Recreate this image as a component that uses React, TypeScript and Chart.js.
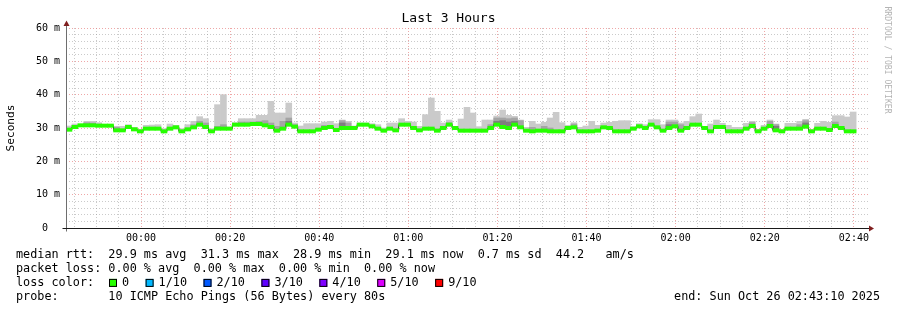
import React, { useEffect, useRef } from 'react';
import { Chart, registerables } from 'chart.js';

Chart.register(...registerables);

// ---- time axis (minutes relative to 00:00) ----
const START_MIN = -(16 + 50 / 60); // 23:43:10
const SPAN_MIN = 180; // last 3 hours
const STEP_MIN = 80 / 60; // 80 s per sample
const X_GRID_STEP = 5; // minor grid every 5 minutes
const X_MAJOR_STEP = 20; // labelled / major grid every 20 minutes

// ---- series values (ms) ----
const MEDIAN = [
  29.5, 30.3, 30.8, 30.8, 30.8, 30.7, 30.7, 30.7, 29.3, 29.3,
  30.3, 29.6, 29.0, 29.8, 29.8, 29.8, 29.0, 29.8, 30.2, 29.0,
  29.6, 30.2, 31.0, 30.3, 29.0, 29.8, 29.8, 29.8, 31.0, 31.0,
  31.0, 31.2, 31.2, 30.8, 30.3, 29.2, 29.8, 31.0, 30.4, 29.0,
  29.0, 29.0, 29.5, 30.0, 30.3, 29.4, 30.0, 30.0, 30.0, 31.0,
  31.0, 30.5, 29.8, 29.2, 29.8, 29.3, 31.0, 31.0, 30.0, 29.3,
  29.8, 29.8, 29.2, 30.0, 31.0, 30.0, 29.2, 29.2, 29.2, 29.2,
  29.2, 30.0, 31.0, 30.3, 30.0, 31.0, 30.2, 29.2, 29.0, 29.2,
  29.2, 29.0, 29.0, 29.0, 30.0, 30.2, 29.0, 29.0, 29.0, 29.2,
  30.2, 30.0, 29.0, 29.0, 29.0, 29.8, 30.5, 30.0, 31.0, 30.2,
  29.2, 30.0, 30.5, 29.2, 30.0, 31.0, 31.0, 30.0, 29.0, 30.3,
  30.3, 29.0, 29.0, 29.0, 29.8, 30.6, 29.0, 29.8, 30.6, 29.3,
  29.0, 29.8, 29.8, 29.8, 30.4, 29.0, 29.8, 29.8, 29.4, 30.6,
  30.0, 29.0, 29.0,
];

const SMOKE_MAX = [
  30.6, 31.2, 31.0, 32.0, 32.0, 31.6, 31.0, 30.9, 30.5, 30.5,
  31.0, 30.2, 29.6, 30.8, 30.9, 31.0, 29.8, 31.2, 30.8, 29.8,
  31.0, 32.0, 33.4, 32.8, 29.8, 37.0, 40.0, 30.3, 31.6, 32.8,
  32.8, 32.8, 33.8, 33.8, 38.0, 34.5, 34.5, 37.5, 31.5, 30.6,
  31.3, 31.3, 31.3, 31.8, 32.0, 31.3, 32.4, 32.0, 30.6, 31.5,
  31.5, 31.3, 31.0, 30.0, 31.5, 31.5, 32.8, 32.0, 31.8, 30.5,
  34.0, 39.0, 35.0, 31.5, 32.4, 30.5, 32.7, 36.2, 34.5, 30.4,
  32.4, 32.4, 33.6, 35.4, 33.8, 33.5, 32.4, 30.2, 32.0, 31.2,
  31.7, 33.0, 34.7, 31.6, 30.8, 31.6, 30.2, 30.6, 32.0, 30.8,
  31.5, 31.7, 32.0, 32.2, 32.2, 30.4, 31.3, 31.0, 32.5, 32.5,
  31.0, 32.4, 32.4, 31.5, 32.0, 33.4, 34.2, 30.4, 31.2, 32.4,
  31.4, 30.8, 30.2, 30.2, 31.4, 32.0, 29.6, 30.8, 32.4, 31.2,
  29.6, 31.4, 31.4, 32.0, 32.6, 29.6, 31.4, 32.0, 31.7, 33.7,
  33.7, 33.3, 34.8,
];

const N = null;
const SMOKE_MID = [
  N, 30.8, N, 31.6, 31.5, N, N, N, 30.2, N,
  N, N, N, N, N, N, N, N, N, N,
  N, 31.0, 32.0, 31.5, N, 30.5, 31.0, N, N, 31.8,
  31.8, 31.8, 32.0, 32.2, 31.5, 30.5, 32.0, 33.0, 31.0, N,
  N, N, N, 30.8, N, N, 32.2, 31.5, N, N,
  31.3, N, N, N, N, N, N, N, N, N,
  N, N, N, N, 31.6, N, N, N, N, N,
  N, 31.0, 33.0, 33.0, 32.8, 33.0, 32.2, N, 30.2, N,
  30.5, 30.0, N, N, N, 31.2, N, N, N, N,
  N, N, N, N, N, N, N, N, N, N,
  N, 31.8, 31.8, 31.0, N, N, N, N, N, N,
  N, N, N, N, N, 31.6, N, N, 32.0, 31.0,
  N, N, N, 31.0, 32.2, N, N, N, N, 31.8,
  N, N, N,
];

const SMOKE_INNER = [
  N, N, N, N, N, N, N, N, N, N,
  N, N, N, N, N, N, N, N, N, N,
  N, N, N, N, N, N, N, N, N, N,
  N, N, N, N, N, N, N, 32.0, N, N,
  N, N, N, N, N, N, 31.5, N, N, N,
  N, N, N, N, N, N, N, N, N, N,
  N, N, N, N, N, N, N, N, N, N,
  N, N, 32.0, 32.2, 31.8, 32.0, N, N, N, N,
  N, N, N, N, N, N, N, N, N, N,
  N, N, N, N, N, N, N, N, N, N,
  N, 31.0, N, N, N, N, N, N, N, N,
  N, N, N, N, N, N, N, N, N, 30.5,
  N, N, N, N, 31.5, N, N, N, N, N,
  N, N, N,
];

// ---- tick labels ----
const X_LABEL_MINUTES = [0, 20, 40, 60, 80, 100, 120, 140, 160];
const X_LABELS = ['00:00', '00:20', '00:40', '01:00', '01:20', '01:40', '02:00', '02:20', '02:40'];
const Y_LABEL_VALUES = [0, 10, 20, 30, 40, 50, 60];
const Y_LABELS = ['0  ', '10 m', '20 m', '30 m', '40 m', '50 m', '60 m'];

// ---- texts ----
const TITLE = 'Last 3 Hours';
const Y_TITLE = 'Seconds';
const WATERMARK = 'RRDTOOL / TOBI OETIKER';
const LEGEND_RTT = 'median rtt:  29.9 ms avg  31.3 ms max  28.9 ms min  29.1 ms now  0.7 ms sd  44.2   am/s';
const LEGEND_LOSS = 'packet loss: 0.00 % avg  0.00 % max  0.00 % min  0.00 % now';
const LEGEND_COLOR_TITLE = 'loss color:';
const LOSS_LABELS = ['0', '1/10', '2/10', '3/10', '4/10', '5/10', '9/10'];
const LOSS_COLORS = ['#26ff00', '#00b8ff', '#0059ff', '#5e00ff', '#7e00ff', '#dd00ff', '#ff0000'];
const LEGEND_PROBE = 'probe:       10 ICMP Echo Pings (56 Bytes) every 80s';
const LEGEND_END = 'end: Sun Oct 26 02:43:10 2025';

const MONO = '"DejaVu Sans Mono", monospace';
const BAND_HALF = 0.5; // half thickness of the median band, ms
const MINOR_GRID = 'rgba(150,150,150,0.5)';
const MAJOR_GRID = 'rgba(230,120,120,0.65)';

const timeAt = (i: number) => START_MIN + (i + 0.5) * STEP_MIN;

const near = (a: number, b: number) => Math.abs(a - b) < 1e-6;

const rrdPlugin = {
  id: 'rrdDecor',
  beforeDraw(chart: any) {
    const ctx = chart.ctx;
    ctx.save();
    ctx.fillStyle = '#ffffff';
    ctx.fillRect(0, 0, chart.width, chart.height);
    ctx.restore();
  },
  afterDraw(chart: any) {
    const ctx = chart.ctx as CanvasRenderingContext2D;
    const { left, right, top, bottom } = chart.chartArea;
    ctx.save();

    // axes
    const ax = Math.round(left) + 0.5;
    const ay = Math.round(bottom) + 0.5;
    ctx.lineWidth = 1;
    ctx.strokeStyle = '#6e6e6e';
    ctx.beginPath();
    ctx.moveTo(ax, ay + 3);
    ctx.lineTo(ax, top - 2);
    ctx.stroke();
    ctx.strokeStyle = '#1a1a1a';
    ctx.beginPath();
    ctx.moveTo(ax - 4, ay);
    ctx.lineTo(right + 1, ay);
    ctx.stroke();
    // arrows
    ctx.fillStyle = '#801f1f';
    ctx.beginPath();
    ctx.moveTo(ax, top - 7.5);
    ctx.lineTo(ax - 3, top - 2);
    ctx.lineTo(ax + 3, top - 2);
    ctx.closePath();
    ctx.fill();
    ctx.beginPath();
    ctx.moveTo(right + 6, ay);
    ctx.lineTo(right + 1, ay - 3);
    ctx.lineTo(right + 1, ay + 3);
    ctx.closePath();
    ctx.fill();

    // title
    ctx.fillStyle = '#000';
    ctx.textBaseline = 'middle';
    ctx.textAlign = 'center';
    ctx.font = `13px ${MONO}`;
    ctx.fillText(TITLE, chart.width / 2, 19);

    // y title
    ctx.save();
    ctx.translate(11, (top + bottom) / 2);
    ctx.rotate(-Math.PI / 2);
    ctx.font = `11.2px ${MONO}`;
    ctx.fillText(Y_TITLE, 0, 0);
    ctx.restore();

    // watermark
    ctx.save();
    ctx.translate(887, 60);
    ctx.rotate(Math.PI / 2);
    ctx.fillStyle = '#b4b4b4';
    ctx.font = `8.1px ${MONO}`;
    ctx.fillText(WATERMARK, 0, 0);
    ctx.restore();

    // legend
    ctx.textAlign = 'left';
    ctx.font = `11.8px ${MONO}`;
    ctx.fillStyle = '#000';
    const lx = 16;
    const rows = [254.5, 268.7, 282.9, 297.1];
    ctx.fillText(LEGEND_RTT, lx, rows[0]);
    ctx.fillText(LEGEND_LOSS, lx, rows[1]);
    ctx.fillText(LEGEND_COLOR_TITLE, lx, rows[2]);
    let bx = 109;
    LOSS_LABELS.forEach((lab, k) => {
      ctx.fillStyle = LOSS_COLORS[k];
      ctx.fillRect(bx, rows[2] - 4, 8, 8);
      ctx.strokeStyle = '#000';
      ctx.lineWidth = 1;
      ctx.strokeRect(bx + 0.5, rows[2] - 3.5, 7, 7);
      ctx.fillStyle = '#000';
      const tx = bx + 13;
      ctx.fillText(lab, tx, rows[2]);
      bx = tx + ctx.measureText(lab).width + 16.5;
    });
    ctx.fillText(LEGEND_PROBE, lx, rows[3]);
    ctx.textAlign = 'right';
    ctx.fillText(LEGEND_END, 880, rows[3]);

    ctx.restore();
  },
};

export default function App() {
  const ref = useRef<HTMLCanvasElement | null>(null);

  useEffect(() => {
    if (!ref.current) return;
    const smokeLight = MEDIAN.map((m, i) => ({ x: timeAt(i), y: [m, SMOKE_MAX[i]] }));
    const smokeMid = MEDIAN.map((m, i) => (SMOKE_MID[i] == null ? { x: timeAt(i), y: null } : { x: timeAt(i), y: [m, SMOKE_MID[i]] }));
    const smokeInner = MEDIAN.map((m, i) => (SMOKE_INNER[i] == null ? { x: timeAt(i), y: null } : { x: timeAt(i), y: [m, SMOKE_INNER[i]] }));
    const medLine = MEDIAN.map((m, i) => ({ x: timeAt(i), y: m }));
    const band = MEDIAN.map((m, i) => ({ x: timeAt(i), y: [m - BAND_HALF, m + BAND_HALF] }));

    const barCommon = {
      type: 'bar' as const,
      grouped: false,
      barPercentage: 1,
      categoryPercentage: 1,
      borderWidth: 0,
    };

    const chart = new Chart(ref.current, {
      type: 'bar',
      data: {
        datasets: [
          { ...barCommon, data: smokeLight as any, backgroundColor: '#cacaca', order: 6 },
          { ...barCommon, data: smokeMid as any, backgroundColor: '#a4a4a4', order: 5 },
          { ...barCommon, data: smokeInner as any, backgroundColor: '#7e7e7e', order: 4 },
          {
            type: 'line',
            data: medLine as any,
            stepped: 'middle',
            borderColor: '#202020',
            borderWidth: 1,
            pointRadius: 0,
            fill: false,
            order: 3,
          } as any,
          { ...barCommon, data: band as any, backgroundColor: '#26ff00', order: 1 },
        ],
      },
      options: {
        responsive: false,
        animation: false,
        devicePixelRatio: 1,
        layout: { padding: { left: 0, top: 28, right: 29, bottom: 62 } },
        plugins: { legend: { display: false }, tooltip: { enabled: false }, title: { display: false } },
        scales: {
          x: {
            type: 'linear',
            min: START_MIN,
            max: START_MIN + SPAN_MIN,
            offset: false,
            ticks: {
              autoSkip: false,
              maxRotation: 0,
              padding: 4,
              color: '#000',
              font: { family: MONO, size: 10 },
              callback: (v: any) => {
                const k = X_LABEL_MINUTES.findIndex((m) => near(m, Number(v)));
                return k >= 0 ? X_LABELS[k] : '';
              },
            },
            afterBuildTicks: (s: any) => {
              const first = Math.ceil(s.min / X_GRID_STEP) * X_GRID_STEP;
              const ticks: any[] = [];
              for (let v = first; v < s.max; v += X_GRID_STEP) ticks.push({ value: v });
              s.ticks = ticks;
            },
            afterFit: (s: any) => {
              s.height = 20;
            },
            grid: {
              offset: false,
              drawTicks: false,
              lineWidth: 1,
              color: (c: any) => {
                const v = c.tick ? c.tick.value : 1;
                return near(v / X_MAJOR_STEP, Math.round(v / X_MAJOR_STEP)) ? MAJOR_GRID : MINOR_GRID;
              },
            },
            border: { display: false, dash: [1, 2] },
          },
          y: {
            type: 'linear',
            min: 0,
            max: 60,
            ticks: {
              stepSize: 2,
              autoSkip: false,
              padding: 6,
              color: '#000',
              font: { family: MONO, size: 10 },
              callback: (v: any) => {
                const k = Y_LABEL_VALUES.findIndex((m) => near(m, Number(v)));
                return k >= 0 ? Y_LABELS[k] : '';
              },
            },
            afterFit: (s: any) => {
              s.width = 66;
            },
            grid: {
              drawTicks: false,
              lineWidth: 1,
              color: (c: any) => {
                const v = c.tick ? c.tick.value : 0;
                if (near(v, 0)) return 'rgba(0,0,0,0)';
                return near(v / 10, Math.round(v / 10)) ? MAJOR_GRID : MINOR_GRID;
              },
            },
            border: { display: false, dash: [1, 2] },
          },
        },
      },
      plugins: [rrdPlugin as any],
    } as any);
    return () => chart.destroy();
  }, []);

  return (
    <div style={{ position: 'absolute', left: 0, top: 0, width: 897, height: 310, background: '#fff' }}>
      <canvas ref={ref} width={897} height={310} style={{ display: 'block' }} />
    </div>
  );
}
